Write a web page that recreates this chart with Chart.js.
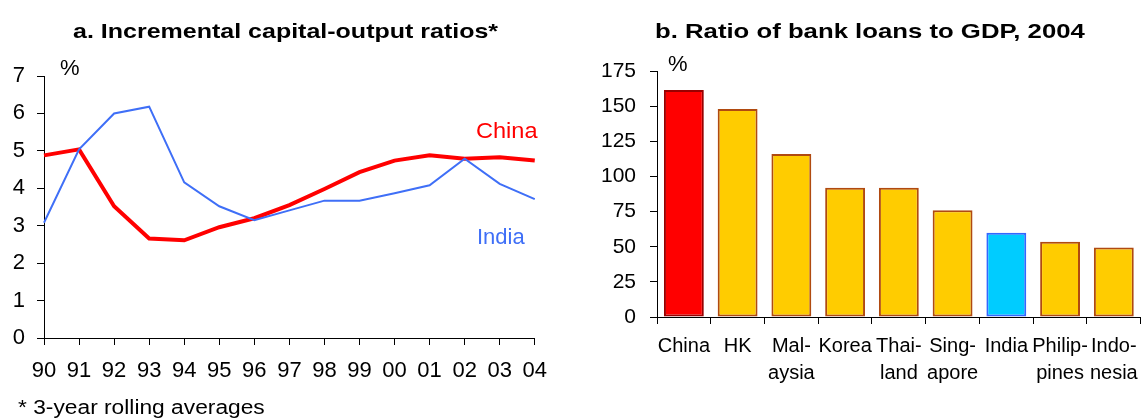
<!DOCTYPE html>
<html>
<head>
<meta charset="utf-8">
<script src="https://cdn.jsdelivr.net/npm/chart.js@4.4.1/dist/chart.umd.min.js"></script>
<style>
  body { margin: 0; background: #fff; }
  #wrap { position: relative; width: 1147px; height: 419px; overflow: hidden; font-family: "Liberation Sans", Arial, sans-serif; }
  canvas { position: absolute; top: 0; }
  .txt { position: absolute; white-space: nowrap; line-height: 1; transform-origin: 0 50%; }
</style>
</head>
<body>
<div id="wrap">
  <canvas id="icor" width="560" height="419" style="left:0;width:560px;height:419px"></canvas>
  <canvas id="loans" width="567" height="419" style="left:580px;width:567px;height:419px"></canvas>
</div>
<script>
// panel a: incremental capital-output ratios (3-yr rolling avg)
const years = ["90", "91", "92", "93", "94", "95", "96", "97", "98", "99", "00", "01", "02", "03", "04"];
const china = [4.88, 5.04, 3.52, 2.66, 2.61, 2.96, 3.2, 3.55, 3.98, 4.43, 4.74, 4.88, 4.79, 4.83, 4.74];
const india = [3.08, 5.04, 6.0, 6.18, 4.16, 3.52, 3.15, 3.41, 3.67, 3.67, 3.87, 4.08, 4.79, 4.12, 3.71];

// panel b: bank loans to GDP, 2004
const countries = ["China", "HK", ["Mal-", "aysia"], "Korea", ["Thai-", "land"], ["Sing-", "apore"], "India", ["Philip-", "pines"], ["Indo-", "nesia"]];
const loans = [161.5, 148, 116, 92, 92, 76, 60, 53.5, 49.5];

const black = "#000";

function place(text, x, cy, size, opts = {}) {
    const d = document.createElement("div");
    d.className = "txt";
    d.textContent = text;
    d.style.left = x + "px";
    d.style.top = (cy - size / 2) + "px";
    d.style.fontSize = size + "px";
    d.style.fontWeight = opts.bold ? "bold" : "normal";
    d.style.color = opts.color || black;
    document.getElementById("wrap").appendChild(d);
    if (opts.width) {
        d.style.transform = "scaleX(" + (opts.width / d.offsetWidth) + ")";
    }
}

new Chart(document.getElementById("icor"), {
    type: "line",
    data: {
        labels: years,
        datasets: [
            { label: "China", data: china, borderColor: "#ff0000", borderWidth: 4, pointRadius: 0, tension: 0, order: 1 },
            { label: "India", data: india, borderColor: "#3f6ff7", borderWidth: 2, pointRadius: 0, tension: 0, order: 0 },
        ],
    },
    options: {
        responsive: false,
        animation: false,
        events: [],
        layout: { padding: { left: 0, right: 16, top: 76, bottom: 31 } },
        plugins: { legend: { display: false }, tooltip: { enabled: false } },
        scales: {
            x: {
                grid: { drawOnChartArea: false, tickLength: 7, color: black },
                border: { color: black },
                ticks: { color: black, font: { size: 22, family: "Liberation Sans" }, padding: 13, maxRotation: 0, autoSkip: false },
                afterFit: (s) => { s.height = 50; },
            },
            y: {
                min: 0,
                max: 7,
                grid: { drawOnChartArea: false, tickLength: 7, color: black },
                border: { color: black },
                ticks: { stepSize: 1, color: black, font: { size: 22, family: "Liberation Sans" }, padding: 12 },
                afterFit: (s) => { s.width = 44; },
            },
        },
    },
});

const barFill = ["#ff0000", "#ffcc00", "#ffcc00", "#ffcc00", "#ffcc00", "#ffcc00", "#00ccff", "#ffcc00", "#ffcc00"];
const barEdge = ["#990000", "#b04a10", "#b04a10", "#b04a10", "#b04a10", "#b04a10", "#3366ff", "#b04a10", "#b04a10"];

new Chart(document.getElementById("loans"), {
    type: "bar",
    data: {
        labels: countries,
        datasets: [
            {
                label: "Bank loans / GDP",
                data: loans,
                backgroundColor: barFill,
                borderColor: barEdge,
                borderWidth: 2,
                borderSkipped: false,
                barPercentage: 0.742,
                categoryPercentage: 1,
            },
        ],
    },
    options: {
        responsive: false,
        animation: false,
        events: [],
        layout: { padding: { left: 0, right: 5, top: 71, bottom: 22 } },
        plugins: { legend: { display: false }, tooltip: { enabled: false } },
        scales: {
            x: {
                grid: { drawOnChartArea: false, tickLength: 7, color: black },
                border: { color: black },
                ticks: { color: black, font: { size: 20, family: "Liberation Sans", lineHeight: 1.365 }, padding: 9, maxRotation: 0, autoSkip: false },
                afterFit: (s) => { s.height = 80; },
            },
            y: {
                min: 0,
                max: 175,
                grid: { drawOnChartArea: false, tickLength: 7, color: black },
                border: { color: black },
                ticks: { stepSize: 25, color: black, font: { size: 21, family: "Liberation Sans" }, padding: 14 },
                afterFit: (s) => { s.width = 77; },
            },
        },
    },
});

place("a. Incremental capital-output ratios*", 73, 30, 21, { bold: true, width: 425 });
place("b. Ratio of bank loans to GDP, 2004", 655, 30, 21, { bold: true, width: 430 });
place("%", 60, 68, 22);
place("%", 668, 64, 22);
place("China", 476, 131, 22, { color: "#ff0000", width: 61 });
place("India", 477, 237, 22, { color: "#3f6ff7", width: 48 });
place("* 3-year rolling averages", 18, 407, 20, { width: 247 });
</script>
</body>
</html>
